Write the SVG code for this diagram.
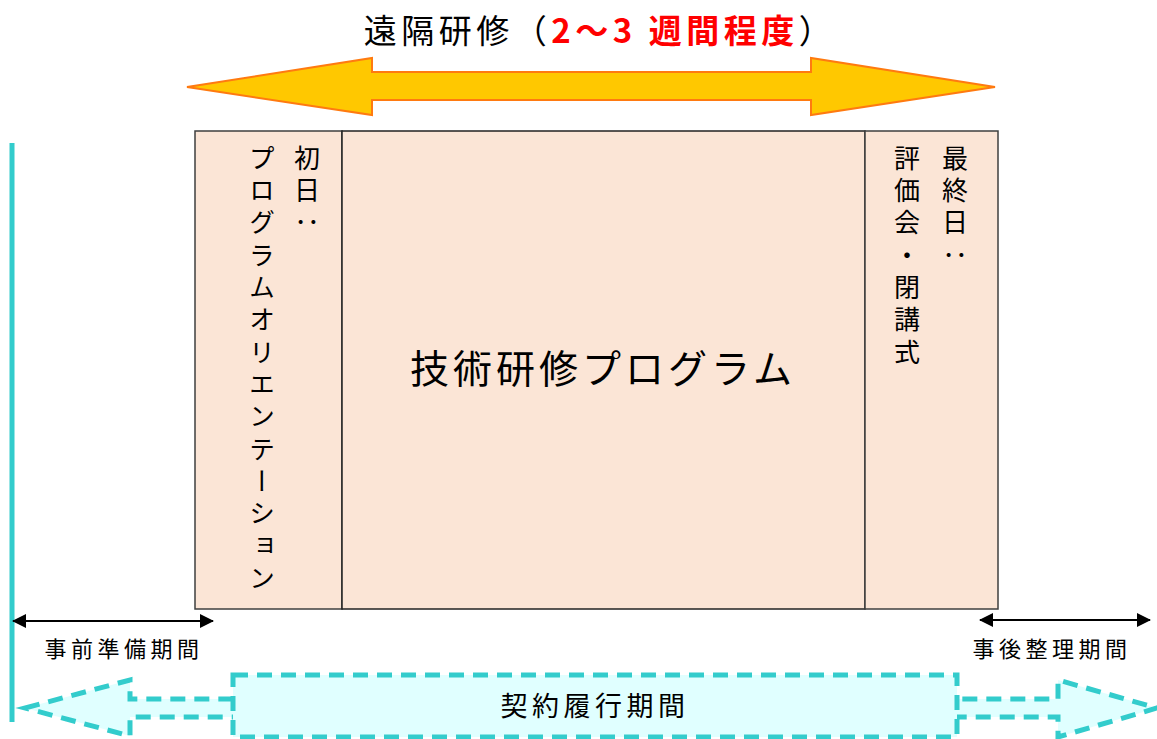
<svg xmlns="http://www.w3.org/2000/svg" width="1157" height="739" viewBox="0 0 1157 739">
<style>
.jp{font-family:"Noto Sans CJK JP","Noto Sans",sans-serif;fill:#000}
.box{fill:#FBE5D6;stroke:#3F3F3F;stroke-width:1.5}
.vt{writing-mode:vertical-rl;font-size:26px;letter-spacing:6.3px}
.dash{fill:#E0FFFF;stroke:#33CCCC;stroke-width:5;stroke-dasharray:15 9}
.blk{stroke:#000;stroke-width:2;fill:none}
</style>
<defs>
<marker id="ah" viewBox="0 0 14 14" refX="13" refY="7" markerWidth="14" markerHeight="14" markerUnits="userSpaceOnUse" orient="auto-start-reverse">
<path d="M0,0 L14,7 L0,14 Z" fill="#000"/>
</marker>
</defs>
<rect width="1157" height="739" fill="#fff"/>
<g id="title">
<text class="jp" x="600" y="43" text-anchor="middle" font-size="33" letter-spacing="4.5">遠隔研修（<tspan fill="#FF0000" font-weight="bold">2～3 週間程度</tspan>）</text>
</g>
<g id="remote-arrow">
<polygon points="187,87 372,58 372,72 811,72 811,58 995,87 811,115 811,100 372,100 372,115" fill="#FFC800" stroke="#FF7A10" stroke-width="2" stroke-linejoin="miter"/>
</g>
<g id="orientation">
<rect class="box" x="195" y="131" width="147" height="478"/>
<text class="jp vt" x="307" y="145">初日：</text>
<text class="jp vt" x="262" y="145">プログラムオリエンテーション</text>
</g>
<g id="main">
<rect class="box" x="342" y="131" width="523" height="478" style="stroke:#222"/>
<text class="jp" x="603" y="383" text-anchor="middle" font-size="39" letter-spacing="4">技術研修プログラム</text>
</g>
<g id="closing">
<rect class="box" x="865" y="131" width="133" height="478"/>
<text class="jp vt" x="955" y="145">最終日：</text>
<text class="jp vt" x="907" y="145">評価会・閉講式</text>
</g>
<g id="contract">
<polygon class="dash" points="25,708 130,680 130,699 1058,699 1058,680 1157,708 1058,737 1058,717 130,717 130,736"/>
<rect class="dash" x="233" y="675" width="724" height="62"/>
<text class="jp" x="595" y="716" text-anchor="middle" font-size="27" letter-spacing="4.5">契約履行期間</text>
</g>
<g id="connectors">
<line x1="12" y1="143" x2="12" y2="722" stroke="#33CCCC" stroke-width="5"/>
<line class="blk" x1="13" y1="621" x2="213" y2="621" marker-start="url(#ah)" marker-end="url(#ah)"/>
<line class="blk" x1="980" y1="620" x2="1150" y2="620" marker-start="url(#ah)" marker-end="url(#ah)"/>
</g>
<g id="labels">
<text class="jp" x="124" y="657" text-anchor="middle" font-size="22" letter-spacing="4.5">事前準備期間</text>
<text class="jp" x="1052" y="657" text-anchor="middle" font-size="22" letter-spacing="4.5">事後整理期間</text>
</g>
</svg>
